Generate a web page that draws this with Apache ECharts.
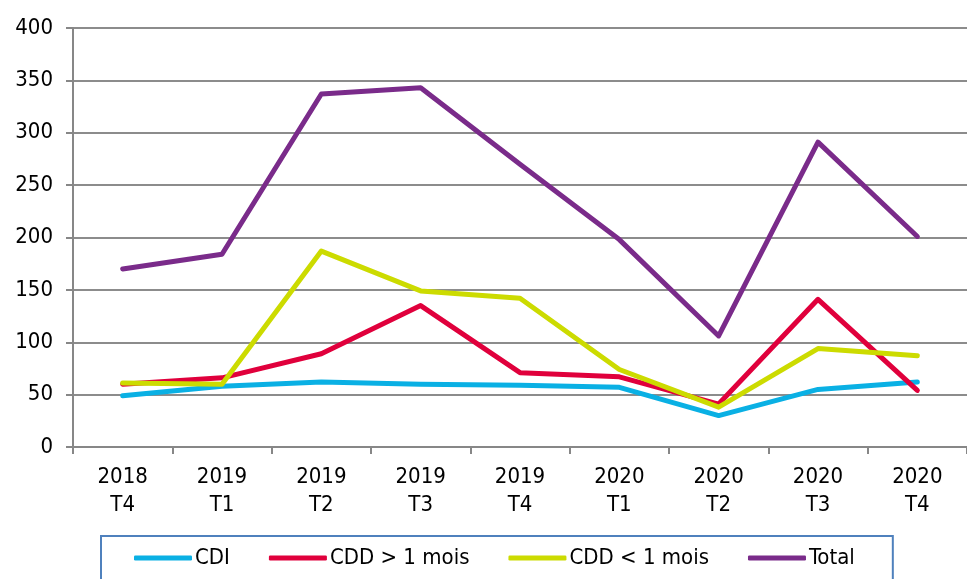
<!DOCTYPE html>
<html>
<head>
<meta charset="utf-8">
<script src="https://cdn.jsdelivr.net/npm/echarts@6/dist/echarts.min.js"></script>
<style>
  html, body { margin: 0; padding: 0; background: #fff; }
  #chart { width: 967px; height: 579px; }
</style>
</head>
<body>
<div id="chart"></div>
<script>
// quarters on x axis
var categories = ['2018\nT4', '2019\nT1', '2019\nT2', '2019\nT3', '2019\nT4', '2020\nT1', '2020\nT2', '2020\nT3', '2020\nT4'];
var cdi = [49, 58, 62, 60, 59, 57, 30, 55, 62];
var cddPlus = [60, 66, 89, 135, 71, 67, 41, 141, 54];
var cddMoins = [61, 60, 187, 149, 142, 74, 38, 94, 87];
var total = [170, 184, 337, 343, 270, 198, 106, 291, 201];
var seriesNames = ['CDI', 'CDD > 1 mois', 'CDD < 1 mois', 'Total'];
var colors = ['#0AB0E4', '#E0003C', '#CCDB00', '#7A2B8A'];

var chart = echarts.init(document.getElementById('chart'));
var font = 'DejaVu Sans Condensed';

function mkLine(name, data, i) {
  return {
    name: name,
    type: 'line',
    data: data,
    symbol: 'none',
    lineStyle: { width: 5, color: colors[i], cap: 'round', join: 'round' },
    itemStyle: { color: colors[i] }
  };
}

var option = {
  animation: false,
  textStyle: { fontFamily: font },
  grid: { left: 73, right: -6, top: 28, bottom: 132 },
  legend: {
    bottom: -14,
    left: 101,
    padding: [11, 38, 24, 33],
    borderColor: '#4F81BD',
    borderWidth: 2,
    itemGap: 39,
    itemWidth: 58,
    itemHeight: 5,
    icon: 'roundRect',
    data: seriesNames,
    textStyle: { fontSize: 22, color: '#000', fontFamily: font, padding: [0, 0, 0, -2] }
  },
  xAxis: {
    type: 'category',
    data: categories,
    boundaryGap: true,
    axisLine: { lineStyle: { color: '#878787', width: 2 } },
    axisTick: { show: true, length: 7, lineStyle: { color: '#878787', width: 2 } },
    axisLabel: { color: '#000', fontSize: 22, lineHeight: 28, margin: 16, interval: 0 }
  },
  yAxis: {
    type: 'value',
    min: 0,
    max: 400,
    interval: 50,
    axisLine: { show: true, lineStyle: { color: '#878787', width: 2 } },
    axisTick: { show: true, length: 7, lineStyle: { color: '#878787', width: 2 } },
    splitLine: { show: true, lineStyle: { color: '#8c8c8c', width: 2 } },
    axisLabel: { color: '#000', fontSize: 22, margin: 20 }
  },
  series: [
    mkLine(seriesNames[0], cdi, 0),
    mkLine(seriesNames[1], cddPlus, 1),
    mkLine(seriesNames[2], cddMoins, 2),
    mkLine(seriesNames[3], total, 3)
  ]
};

chart.setOption(option);
</script>
</body>
</html>
